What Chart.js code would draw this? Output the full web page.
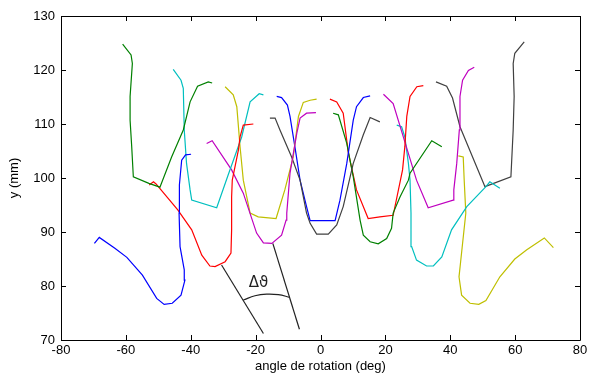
<!DOCTYPE html>
<html>
<head>
<meta charset="utf-8">
<script src="https://cdn.jsdelivr.net/npm/chart.js@4.4.1/dist/chart.umd.min.js"></script>
<style>
  body { margin: 0; background: #fff; }
  canvas { display: block; }
</style>
</head>
<body>
<canvas id="myChart" width="592" height="374"></canvas>
<script>

// axis ticks
var xTicks = [-80, -60, -40, -20, 0, 20, 40, 60, 80];
var yTicks = [70, 80, 90, 100, 110, 120, 130];

// left side curves
var blueLeftX = [-69.7, -68.2, -63.4, -59.7, -54.9, -50.5, -48.2, -45.7, -43.0, -41.8, -42.0, -43.3, -43.6, -43.5, -42.8, -41.6, -39.9];
var blueLeftY = [87.9, 89.0, 87.0, 85.3, 82.0, 77.7, 76.6, 76.8, 78.3, 81.1, 83.0, 87.3, 93.5, 98.7, 103.3, 104.3, 104.4];

var greenLeftX = [-61.0, -58.4, -58.0, -58.7, -58.7, -58.2, -57.7, -52.9, -49.5, -45.9, -42.3, -40.2, -37.9, -34.6, -33.4];
var greenLeftY = [124.8, 122.8, 121.2, 115.1, 110.7, 105.8, 100.2, 99.0, 98.3, 103.9, 108.9, 114.1, 117.0, 117.8, 117.6];

var redLeftX = [-52.8, -51.5, -50.7, -50.0, -44.0, -39.7, -36.6, -34.1, -32.5, -29.4, -27.6, -27.4, -27.4, -27.2, -25.3, -24.8, -23.8, -20.7];
var redLeftY = [98.7, 99.3, 98.9, 98.4, 94.1, 90.4, 85.7, 83.7, 83.6, 84.5, 86.1, 90.4, 96.5, 99.6, 105.2, 107.6, 109.8, 110.0];

var cyanLeftX = [-45.4, -43.0, -42.3, -42.0, -41.3, -40.2, -39.7, -32.0, -28.5, -24.3, -21.7, -18.9, -17.6];
var cyanLeftY = [120.1, 118.1, 116.6, 108.9, 102.7, 97.8, 95.9, 94.5, 100.5, 107.6, 114.1, 115.6, 115.4];

var magentaLeftX = [-35.1, -33.4, -27.4, -23.8, -19.7, -17.6, -15.0, -12.0, -10.6, -10.4, -9.4, -7.3, -6.3, -4.3, -1.4];
var magentaLeftY = [106.4, 106.9, 101.5, 97.2, 89.8, 88.0, 87.9, 89.4, 92.2, 93.5, 100.9, 108.3, 111.1, 112.0, 112.1];

var yellowLeftX = [-29.4, -26.9, -25.8, -24.8, -23.8, -21.7, -19.2, -13.7, -11.0, -8.4, -6.8, -5.3, -3.2, -1.2];
var yellowLeftY = [116.9, 115.4, 113.2, 105.8, 99.6, 93.5, 92.8, 92.5, 97.8, 103.9, 111.4, 114.0, 114.4, 114.6];

// center curves
var grayCenterX = [-15.6, -14.0, -12.5, -8.9, -6.3, -4.3, -3.2, -1.2, 2.4, 5.0, 7.0, 10.1, 13.2, 15.3, 18.3];
var grayCenterY = [111.1, 111.1, 108.9, 103.9, 99.6, 93.5, 91.6, 89.6, 89.6, 91.3, 94.7, 102.7, 108.0, 111.2, 110.4];

var blueCenterX = [-13.5, -12.0, -10.2, -9.4, -7.9, -6.3, -4.3, -3.2, 4.5, 6.0, 8.1, 10.1, 11.1, 13.2, 15.3];
var blueCenterY = [115.1, 114.9, 113.5, 111.4, 105.8, 99.6, 94.7, 92.1, 92.1, 95.9, 102.7, 110.7, 113.2, 114.9, 115.2];

// right side curves
var greenRightX = [3.9, 5.5, 8.1, 10.1, 12.2, 13.2, 15.3, 17.8, 20.4, 21.9, 22.4, 24.5, 27.1, 27.6, 34.3, 37.4];
var greenRightY = [112.0, 111.7, 106.4, 100.2, 92.2, 89.4, 88.2, 87.8, 88.8, 90.7, 93.5, 96.5, 99.6, 100.9, 106.9, 105.8];

var redRightX = [2.9, 5.0, 7.0, 8.6, 11.1, 14.7, 18.3, 22.4, 25.3, 26.0, 26.6, 27.6, 29.7, 31.7];
var redRightY = [114.6, 114.1, 112.0, 104.6, 97.8, 92.5, 92.8, 93.1, 101.5, 105.8, 111.4, 115.1, 116.9, 117.1];

var magentaRightX = [19.4, 22.4, 29.6, 33.2, 40.9, 41.1, 42.0, 42.8, 43.0, 43.8, 45.6, 47.4];
var magentaRightY = [115.5, 113.8, 99.6, 94.5, 95.9, 97.8, 102.7, 108.9, 115.1, 118.1, 119.9, 120.5];

var cyanRightX = [55.3, 52.2, 51.0, 45.1, 40.4, 37.4, 34.8, 32.7, 29.6, 28.1, 27.9, 27.6, 27.1, 26.0, 25.0, 23.5];
var cyanRightY = [98.1, 99.3, 98.4, 94.7, 90.4, 85.4, 83.7, 83.7, 84.8, 87.3, 93.5, 99.6, 102.7, 107.6, 109.5, 109.8];

var grayRightX = [62.8, 59.9, 59.4, 59.7, 59.4, 58.7, 50.7, 43.0, 40.7, 38.9, 35.6];
var grayRightY = [125.2, 123.1, 121.2, 115.1, 108.9, 100.2, 98.4, 109.5, 114.8, 117.0, 117.8];

var yellowRightX = [71.8, 69.0, 63.6, 59.9, 55.3, 51.0, 48.8, 46.1, 43.5, 42.7, 43.2, 44.8, 44.3, 44.0, 42.5];
var yellowRightY = [87.1, 88.9, 86.7, 85.0, 81.7, 77.3, 76.6, 76.8, 78.3, 81.7, 84.5, 93.5, 99.6, 103.9, 104.1];

// delta theta annotation
var annoLine1X = [-30.5, -17.6];
var annoLine1Y = [83.9, 71.2];
var annoLine2X = [-14.7, -6.5];
var annoLine2Y = [87.9, 72.0];
var annoArcX = [-23.8, -20.2, -16.6, -13.0, -9.4];
var annoArcY = [77.4, 78.2, 78.5, 78.4, 77.9];
var annoText = '\u0394\u03d1';

function pts(xs, ys) {
  var out = [];
  for (var i = 0; i < xs.length; i++) {
    out.push({x: xs[i], y: ys[i]});
  }
  return out;
}

function curve(xs, ys, color) {
  return {
    data: pts(xs, ys),
    borderColor: color,
    backgroundColor: color,
    borderWidth: 1.2,
    pointRadius: 0,
    showLine: true,
    tension: 0
  };
}

var BLUE = '#0000ff', GREEN = '#008000', RED = '#ff0000', CYAN = '#00bfbf',
    MAGENTA = '#bf00bf', YELLOW = '#bfbf00', GRAY = '#404040';

var datasets = [
  curve(blueLeftX, blueLeftY, BLUE),
  curve(greenLeftX, greenLeftY, GREEN),
  curve(redLeftX, redLeftY, RED),
  curve(cyanLeftX, cyanLeftY, CYAN),
  curve(magentaLeftX, magentaLeftY, MAGENTA),
  curve(yellowLeftX, yellowLeftY, YELLOW),
  curve(grayCenterX, grayCenterY, GRAY),
  curve(blueCenterX, blueCenterY, BLUE),
  curve(greenRightX, greenRightY, GREEN),
  curve(redRightX, redRightY, RED),
  curve(magentaRightX, magentaRightY, MAGENTA),
  curve(cyanRightX, cyanRightY, CYAN),
  curve(grayRightX, grayRightY, GRAY),
  curve(yellowRightX, yellowRightY, YELLOW),
  curve(annoLine1X, annoLine1Y, '#222'),
  curve(annoLine2X, annoLine2Y, '#222'),
  curve(annoArcX, annoArcY, '#222')
];
datasets[16].tension = 0.4;

// box + inward ticks (matlab style) + label
var boxPlugin = {
  id: 'box',
  afterDatasetsDraw: function (chart) {
    var ctx = chart.ctx;
    var a = chart.chartArea;
    var xs = chart.scales.x, ys = chart.scales.y;
    ctx.save();
    ctx.strokeStyle = '#000';
    ctx.lineWidth = 1;
    ctx.beginPath();
    ctx.rect(Math.round(a.left) + 0.5, Math.round(a.top) + 0.5, Math.round(a.right - a.left), Math.round(a.bottom - a.top));
    var i, p;
    for (i = 0; i < xTicks.length; i++) {
      p = Math.round(xs.getPixelForValue(xTicks[i])) + 0.5;
      ctx.moveTo(p, a.bottom); ctx.lineTo(p, a.bottom - 5);
      ctx.moveTo(p, a.top); ctx.lineTo(p, a.top + 5);
    }
    for (i = 0; i < yTicks.length; i++) {
      p = Math.round(ys.getPixelForValue(yTicks[i])) + 0.5;
      ctx.moveTo(a.left, p); ctx.lineTo(a.left + 5, p);
      ctx.moveTo(a.right, p); ctx.lineTo(a.right - 5, p);
    }
    ctx.stroke();

    ctx.fillStyle = '#222';
    ctx.font = '15px "DejaVu Sans"';
    ctx.textAlign = 'center';
    ctx.textBaseline = 'middle';
    ctx.fillText(annoText, xs.getPixelForValue(-19.1), ys.getPixelForValue(80.5));
    ctx.restore();
  }
};

var tickFont = {family: '"Liberation Sans", Arial, sans-serif', size: 13};

new Chart(document.getElementById('myChart'), {
  type: 'scatter',
  data: {datasets: datasets},
  options: {
    responsive: false,
    animation: false,
    events: [],
    layout: {padding: {top: 16, right: 12, left: 0, bottom: 0}},
    plugins: {
      legend: {display: false},
      tooltip: {enabled: false}
    },
    scales: {
      x: {
        type: 'linear',
        min: -80,
        max: 80,
        afterBuildTicks: function (scale) {
          scale.ticks = xTicks.map(function (v) { return {value: v}; });
        },
        afterFit: function (scale) { scale.height = 34; },
        grid: {display: false, drawTicks: false},
        border: {display: false},
        ticks: {font: tickFont, color: '#000', padding: 3, maxRotation: 0},
        title: {
          display: true,
          text: 'angle de rotation (deg)',
          font: tickFont,
          color: '#000',
          padding: {top: 0, bottom: 0}
        }
      },
      y: {
        type: 'linear',
        min: 70,
        max: 130,
        afterBuildTicks: function (scale) {
          scale.ticks = yTicks.map(function (v) { return {value: v}; });
        },
        afterFit: function (scale) { scale.width = 61; },
        grid: {display: false, drawTicks: false},
        border: {display: false},
        ticks: {font: tickFont, color: '#000', padding: 6},
        title: {
          display: true,
          text: 'y (mm)',
          font: tickFont,
          color: '#000',
          padding: {top: 7, bottom: 0}
        }
      }
    }
  },
  plugins: [boxPlugin]
});
</script>
</body>
</html>
